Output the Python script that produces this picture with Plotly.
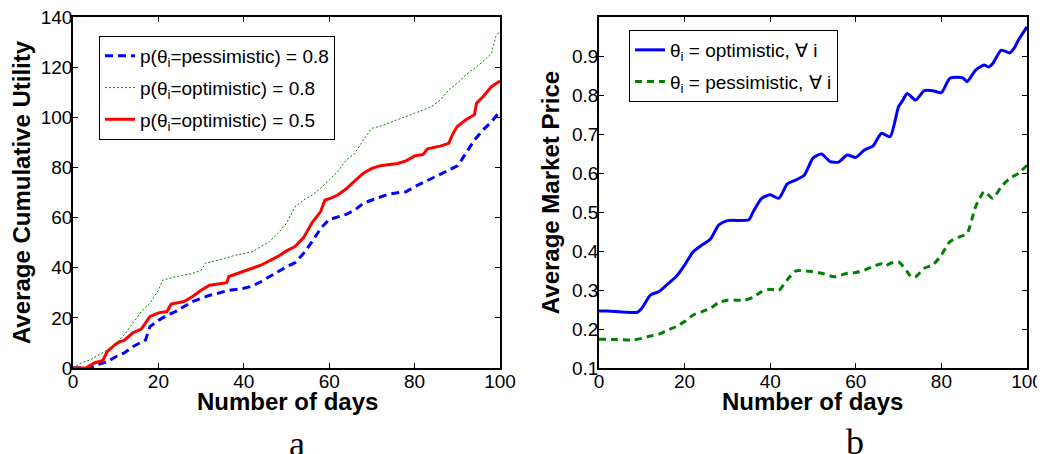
import plotly.graph_objs as go

# panel a: average cumulative utility
pess08_days = [0, 4, 6, 8, 10, 12, 14, 16, 17, 18, 20, 22, 24, 26, 28, 30, 32, 34, 36, 40, 42, 44, 46, 48, 50,
               52, 54, 56, 58, 60, 62, 64, 66, 68, 70, 72, 74, 76, 78, 80, 82, 84, 86, 88, 90, 91, 92, 94, 96, 98, 100]
pess08_vals = [0, 0, 1.5, 2.5, 4.5, 6, 8.5, 10.5, 11.2, 16.5, 19, 21, 22.5, 24.5, 26.5, 27.8, 29, 29.8, 30.8, 31.8, 32.7,
               34.4, 36.4, 38.4, 40.4, 42, 45.7, 50.4, 55.7, 59.2, 60.4, 61.3, 63, 65.7, 67, 68.3, 69.4, 69.9, 70.3,
               72.3, 73.9, 75.7, 77.4, 79, 80.6, 83, 85.6, 90.9, 94.9, 98.2, 102.5]

opt08_days = [0, 2, 4, 6, 8, 10, 12, 14, 16, 18, 20, 21, 24, 28, 30, 31, 34, 38, 42, 44, 46, 48, 50, 52, 54, 56,
              58, 60, 62, 64, 66, 68, 70, 72, 76, 80, 84, 86, 88, 90, 92, 94, 96, 98, 99, 100]
opt08_vals = [0, 2.1, 3.2, 5.2, 7.2, 9.8, 13.2, 17.8, 22.5, 25.8, 31, 35, 36.4, 37.7, 39, 41.8, 43, 45, 46.4, 48.4,
              50.4, 53.7, 57.7, 64.3, 67, 69, 71.7, 75, 78.3, 83, 85.6, 91, 95.6, 96.5, 98.9, 101.6, 104.3, 106.9,
              110.9, 113.6, 116.9, 119.5, 122.2, 125.5, 132.2, 134.5]

opt05_days = [0, 3, 5, 7, 8, 10, 11, 12, 14, 16, 17, 18, 20, 22, 23, 26, 28, 30, 32, 36, 36.5, 40, 44, 48, 50, 52,
              54, 56, 58, 59, 60, 62, 64, 66, 68, 70, 72, 76, 78, 80, 82, 83, 86, 88, 89, 90, 92, 94, 94.5, 96, 98, 100]
opt05_vals = [0, 0, 2, 3, 6.5, 9.5, 10.5, 11, 14, 15.5, 18, 20.5, 22, 22.5, 25.5, 26.5, 28.5, 31, 33, 34, 36.5, 38.5,
              41, 44.5, 46.7, 48.4, 52, 58, 62.4, 67, 67.5, 69, 71.5, 74.6, 77.7, 79.6, 80.7, 81.6, 82.6, 84.6, 85.2,
              87.4, 88.5, 89.6, 93.6, 96.3, 99, 101, 105.6, 108.2, 112.2, 114.5]

# panel b: average market price
optall_days = [0, 2, 6, 9, 10, 12, 14, 16, 18, 20, 22, 24, 26, 28, 30, 35, 36, 38, 40, 42, 44, 46, 48, 50, 52, 54,
               56, 58, 60, 62, 64, 66, 68, 70, 71, 72, 74, 76, 78, 80, 82, 85, 86, 88, 90, 91, 92, 94, 96, 97, 98, 100]
optall_vals = [0.246, 0.246, 0.243, 0.243, 0.253, 0.287, 0.296, 0.315, 0.334, 0.364, 0.398, 0.415, 0.43, 0.467,
               0.478, 0.48, 0.50, 0.535, 0.544, 0.535, 0.572, 0.582, 0.595, 0.638, 0.649, 0.629, 0.628, 0.646, 0.640,
               0.659, 0.669, 0.702, 0.693, 0.77, 0.787, 0.804, 0.787, 0.811, 0.811, 0.806, 0.843, 0.844, 0.834, 0.864,
               0.877, 0.872, 0.881, 0.915, 0.908, 0.92, 0.941, 0.975]

pessall_days = [0, 4, 8, 10, 12, 14, 16, 18, 20, 22, 24, 26, 28, 30, 34, 36, 38, 40, 42, 44, 46, 50, 52, 55, 58, 60,
                62, 64, 66, 67, 68, 70, 72, 73, 74, 76, 78, 80, 82, 84, 86, 88, 90, 92, 94, 96, 98, 100]
pessall_vals = [0.174, 0.173, 0.172, 0.176, 0.182, 0.187, 0.197, 0.206, 0.219, 0.236, 0.244, 0.253, 0.268, 0.274,
                0.274, 0.281, 0.296, 0.302, 0.299, 0.326, 0.349, 0.347, 0.343, 0.334, 0.343, 0.345, 0.351, 0.36,
                0.367, 0.362, 0.368, 0.372, 0.347, 0.333, 0.334, 0.356, 0.364, 0.39, 0.424, 0.435, 0.445, 0.514,
                0.552, 0.535, 0.565, 0.586, 0.599, 0.62]

x_ticks = [0, 20, 40, 60, 80, 100]
util_ticks = [0, 20, 40, 60, 80, 100, 120, 140]
price_ticks = [0.1, 0.2, 0.3, 0.4, 0.5, 0.6, 0.7, 0.8, 0.9]

W, H = 1045, 454
OFF = 8  # page body margin shifts the figure by this much
ML, MT = 73 - OFF, 17 - OFF
PW, PH = 954, 351
MR, MB = W - ML - PW, H - MT - PH
FONT = "Liberation Sans, Arial, sans-serif"
BLUE = "rgb(0,0,255)"
GREEN = "rgb(0,128,0)"
RED = "rgb(255,0,0)"


# screen pixel -> paper fraction
def px(xp):
    return (xp - OFF - ML) / PW


def py(yp):
    return 1 - (yp - OFF - MT) / PH


fig = go.Figure()
fig.add_trace(go.Scatter(x=pess08_days, y=pess08_vals, mode="lines", xaxis="x", yaxis="y", legend="legend",
                         legendgroup="a1", name="p(θ<sub>i</sub>=pessimistic) = 0.8",
                         line=dict(color=BLUE, width=3, dash="8px,5px")))
fig.add_trace(go.Scatter(x=opt08_days, y=opt08_vals, mode="lines", xaxis="x", yaxis="y", legend="legend",
                         legendgroup="a2", name="p(θ<sub>i</sub>=optimistic) = 0.8",
                         line=dict(color=GREEN, width=1, dash="2px,2px")))
fig.add_trace(go.Scatter(x=opt05_days, y=opt05_vals, mode="lines", xaxis="x", yaxis="y", legend="legend",
                         legendgroup="a3", name="p(θ<sub>i</sub>=optimistic) = 0.5",
                         line=dict(color=RED, width=3)))
fig.add_trace(go.Scatter(x=optall_days, y=optall_vals, mode="lines", xaxis="x2", yaxis="y2", legend="legend2",
                         legendgroup="b1", name="θ<sub>i</sub> = optimistic, ∀ i",
                         line=dict(color=BLUE, width=3, shape="spline", smoothing=0.6)))
fig.add_trace(go.Scatter(x=pessall_days, y=pessall_vals, mode="lines", xaxis="x2", yaxis="y2", legend="legend2",
                         legendgroup="b2", name="θ<sub>i</sub> = pessimistic, ∀ i",
                         line=dict(color=GREEN, width=3, dash="7px,5px", shape="spline", smoothing=0.6)))

axis_style = dict(showline=True, linecolor="black", linewidth=1.5, mirror="ticks", ticks="inside", ticklen=5,
                  tickcolor="black", showgrid=False, zeroline=False, automargin=False, ticklabelstandoff=-5,
                  ticklabeloverflow="allow", tickfont=dict(family=FONT, size=19, color="black"))
title_font = dict(family=FONT, size=24, color="black")

fig.update_layout(
    width=W, height=H, margin=dict(l=ML, r=MR, t=MT, b=MB, autoexpand=False),
    paper_bgcolor="white", plot_bgcolor="white",
    font=dict(family=FONT, color="black"),
    xaxis=dict(domain=[0, px(500)], range=[0, 100], tickvals=x_ticks, anchor="y", **axis_style),
    yaxis=dict(domain=[0, 1], range=[0, 140], tickvals=util_ticks, anchor="x",
               title=dict(text="<b>Average Cumulative Utility</b>", font=title_font, standoff=3), **axis_style),
    xaxis2=dict(domain=[px(599), 1], range=[0, 100], tickvals=x_ticks, anchor="y2", **axis_style),
    yaxis2=dict(domain=[0, 1], range=[0.1, 1.0], tickvals=price_ticks, anchor="x2",
                title=dict(text="<b>Average Market Price</b>", font=title_font, standoff=6), **axis_style),
    legend=dict(x=px(99), y=py(36), xanchor="left", yanchor="top", bgcolor="white", tracegroupgap=4,
                bordercolor="black", borderwidth=1, font=dict(family=FONT, size=19, color="black")),
    legend2=dict(x=px(629), y=py(30), xanchor="left", yanchor="top", bgcolor="white", tracegroupgap=4,
                 bordercolor="black", borderwidth=1, font=dict(family=FONT, size=19, color="black")),
    showlegend=True,
)

# x-axis titles
for cx in (287, 812):
    fig.add_annotation(text="<b>Number of days</b>", x=px(cx), y=py(401), xref="paper", yref="paper",
                       xanchor="center", yanchor="middle", showarrow=False, font=title_font)

caption_font = dict(family="Liberation Serif, DejaVu Serif, serif", size=36, color="black")
fig.add_annotation(text="a", x=px(297), y=py(444), xref="paper", yref="paper", xanchor="center", yanchor="middle",
                   showarrow=False, font=caption_font)
fig.add_annotation(text="b", x=px(855), y=py(442), xref="paper", yref="paper", xanchor="center", yanchor="middle",
                   showarrow=False, font=caption_font)

fig.write_html("out.html")
